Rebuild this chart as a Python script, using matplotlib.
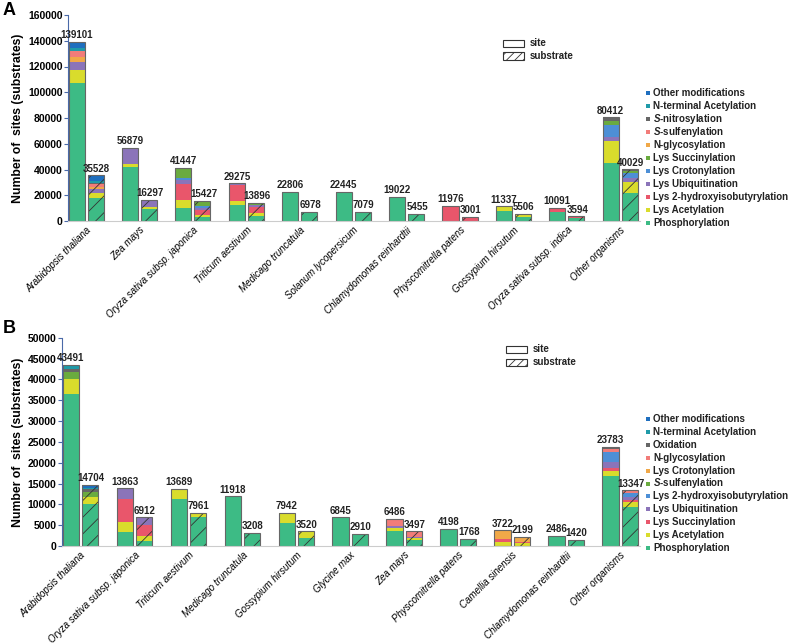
import matplotlib
matplotlib.use('Agg')
import matplotlib.pyplot as plt
from matplotlib.patches import Rectangle
import numpy as np

plt.rcParams['font.family'] = ['Liberation Sans', 'DejaVu Sans']
plt.rcParams['mathtext.fontset'] = 'custom'
plt.rcParams['mathtext.it'] = 'Liberation Sans:italic:bold'
plt.rcParams['mathtext.rm'] = 'Liberation Sans:bold'
plt.rcParams['hatch.color'] = '#333333'
plt.rcParams['hatch.linewidth'] = 0.6

# ---- panel A data ----
a_orgs = ['Arabidopsis thaliana', 'Zea mays', 'Oryza sativa subsp. japonica', 'Triticum aestivum',
          'Medicago truncatula', 'Solanum lycopersicum', 'Chlamydomonas reinhardtii',
          'Physcomitrella patens', 'Gossypium hirsutum', 'Oryza sativa subsp. indica', 'Other organisms']
a_mods = ['Phosphorylation', 'Lys Acetylation', 'Lys 2-hydroxyisobutyrylation', 'Lys Ubiquitination',
          'Lys Crotonylation', 'Lys Succinylation', 'N-glycosylation', '$\\it{S}$-sulfenylation',
          '$\\it{S}$-nitrosylation', 'N-terminal Acetylation', 'Other modifications']
a_colors = ['#3dbb85', '#d9dc2c', '#e9566b', '#8b74b9', '#4d8fd6', '#6aab3f', '#f0a848',
            '#f27c79', '#666666', '#1f9aa8', '#1f6fbf']
a_site_totals = [139101, 56879, 41447, 29275, 22806, 22445, 19022, 11976, 11337, 10091, 80412]
a_sub_totals = [35528, 16297, 15427, 13896, 6978, 7079, 5455, 3001, 5506, 3594, 40029]
a_site = [
    [107000, 42000, 10300, 12400, 22806, 21900, 19022, 0, 7800, 7000, 45300],
    [10500, 2200, 6000, 3400, 0, 0, 0, 0, 3537, 0, 17100],
    [0, 0, 12200, 12000, 0, 545, 0, 11976, 0, 3091, 0],
    [5700, 12200, 3300, 600, 0, 0, 0, 0, 0, 0, 3100],
    [0, 0, 1800, 0, 0, 0, 0, 0, 0, 0, 9100],
    [0, 0, 7847, 875, 0, 0, 0, 0, 0, 0, 3300],
    [4000, 179, 0, 0, 0, 0, 0, 0, 0, 0, 0],
    [4700, 300, 0, 0, 0, 0, 0, 0, 0, 0, 0],
    [0, 0, 0, 0, 0, 0, 0, 0, 0, 0, 2512],
    [2800, 0, 0, 0, 0, 0, 0, 0, 0, 0, 0],
    [4401, 0, 0, 0, 0, 0, 0, 0, 0, 0, 0],
]
a_sub = [
    [17600, 9300, 2800, 4100, 6978, 6900, 5455, 0, 2900, 2100, 22000],
    [4500, 1300, 2100, 2400, 0, 0, 0, 0, 2300, 0, 8500],
    [0, 0, 3600, 4100, 0, 0, 0, 3001, 0, 1494, 0],
    [2500, 5697, 1800, 1800, 0, 179, 0, 0, 306, 0, 2600],
    [0, 0, 1300, 0, 0, 0, 0, 0, 0, 0, 3900],
    [0, 0, 3827, 1496, 0, 0, 0, 0, 0, 0, 1800],
    [2000, 0, 0, 0, 0, 0, 0, 0, 0, 0, 0],
    [2500, 0, 0, 0, 0, 0, 0, 0, 0, 0, 0],
    [500, 0, 0, 0, 0, 0, 0, 0, 0, 0, 1229],
    [1500, 0, 0, 0, 0, 0, 0, 0, 0, 0, 0],
    [4428, 0, 0, 0, 0, 0, 0, 0, 0, 0, 0],
]

# ---- panel B data ----
b_orgs = ['Arabidopsis thaliana', 'Oryza sativa subsp. japonica', 'Triticum aestivum',
          'Medicago truncatula', 'Gossypium hirsutum', 'Glycine max', 'Zea mays',
          'Physcomitrella patens', 'Camellia sinensis', 'Chlamydomonas reinhardtii', 'Other organisms']
b_mods = ['Phosphorylation', 'Lys Acetylation', 'Lys Succinylation', 'Lys Ubiquitination',
          'Lys 2-hydroxyisobutyrylation', '$\\it{S}$-sulfenylation', 'Lys Crotonylation',
          'N-glycosylation', 'Oxidation', 'N-terminal Acetylation', 'Other modifications']
b_colors = ['#3dbb85', '#d9dc2c', '#e9566b', '#8b74b9', '#4d8fd6', '#6aab3f', '#f0a848',
            '#f27c79', '#666666', '#1f9aa8', '#1f6fbf']
b_site_totals = [43491, 13863, 13689, 11918, 7942, 6845, 6486, 4198, 3722, 2486, 23783]
b_sub_totals = [14704, 6912, 7961, 3208, 3520, 2910, 3497, 1768, 2199, 1420, 13347]
b_site = [
    [36500, 3400, 11300, 11918, 5600, 6845, 3600, 4198, 0, 2486, 16800],
    [3500, 2300, 2389, 0, 2342, 0, 640, 0, 1000, 0, 1300],
    [0, 5500, 0, 0, 0, 0, 0, 0, 700, 0, 700],
    [0, 2663, 0, 0, 0, 0, 660, 0, 0, 0, 1400],
    [0, 0, 0, 0, 0, 0, 0, 0, 0, 0, 2400],
    [1800, 0, 0, 0, 0, 0, 0, 0, 0, 0, 0],
    [0, 0, 0, 0, 0, 0, 0, 0, 2022, 0, 0],
    [0, 0, 0, 0, 0, 0, 1586, 0, 0, 0, 800],
    [800, 0, 0, 0, 0, 0, 0, 0, 0, 0, 383],
    [600, 0, 0, 0, 0, 0, 0, 0, 0, 0, 0],
    [291, 0, 0, 0, 0, 0, 0, 0, 0, 0, 0],
]
b_sub = [
    [10100, 1300, 6900, 3208, 1900, 2910, 1440, 1768, 0, 1420, 9400],
    [1600, 1100, 1061, 0, 1620, 0, 400, 0, 700, 0, 1100],
    [0, 2600, 0, 0, 0, 0, 0, 0, 300, 0, 500],
    [0, 1912, 0, 0, 0, 0, 400, 0, 0, 0, 800],
    [0, 0, 0, 0, 0, 0, 0, 0, 0, 0, 1000],
    [1200, 0, 0, 0, 0, 0, 0, 0, 0, 0, 0],
    [0, 0, 0, 0, 0, 0, 0, 0, 1199, 0, 0],
    [0, 0, 0, 0, 0, 0, 1257, 0, 0, 0, 300],
    [800, 0, 0, 0, 0, 0, 0, 0, 0, 0, 247],
    [300, 0, 0, 0, 0, 0, 0, 0, 0, 0, 0],
    [704, 0, 0, 0, 0, 0, 0, 0, 0, 0, 0],
]

W, H = 788, 644
fig = plt.figure(figsize=(W / 100, H / 100), dpi=100)


def fx(px):
    return px / W


def fy(py):
    return 1 - py / H


def draw_panel(rect, orgs, mods, colors, site, sub, site_tot, sub_tot, ymax, ystep,
               letter, letter_py, siteleg_py, modleg_py):
    ax = fig.add_axes(rect)
    x = np.arange(len(orgs))
    w = 0.30
    off = 0.178
    bs = np.zeros(len(orgs))
    bb = np.zeros(len(orgs))
    for vals_s, vals_b, c in zip(site, sub, colors):
        ax.bar(x - off, vals_s, w, bottom=bs, color=c, linewidth=0)
        ax.bar(x + off, vals_b, w, bottom=bb, color=c, linewidth=0, hatch='//',
               edgecolor='#333333')
        bs += np.array(vals_s)
        bb += np.array(vals_b)
    # outlines
    ax.bar(x - off, bs, w, fill=False, edgecolor='#666666', linewidth=0.8)
    ax.bar(x + off, bb, w, fill=False, edgecolor='#666666', linewidth=0.8)
    for i in range(len(orgs)):
        ax.text(x[i] - off, bs[i] + ymax * 0.008, str(site_tot[i]), ha='center', va='bottom',
                fontsize=7, fontweight='bold', color='#222222')
        ax.text(x[i] + off + 0.02, bb[i] + ymax * 0.008, str(sub_tot[i]), ha='center', va='bottom',
                fontsize=7, fontweight='bold', color='#222222')
    ax.set_xlim(-0.34, len(orgs) - 1 + 0.37)
    ax.set_ylim(0, ymax)
    ax.set_yticks(np.arange(0, ymax + 1, ystep))
    ax.set_xticks(x)
    ax.set_xticklabels(orgs, rotation=45, ha='right', rotation_mode='anchor',
                       fontsize=7, style='italic')
    ax.tick_params(axis='x', length=0, pad=3)
    ax.tick_params(axis='y', labelsize=7.5, length=3, color='#4a6aa8', pad=1)
    for t in ax.get_yticklabels():
        t.set_fontweight('bold')
    ax.spines['top'].set_visible(False)
    ax.spines['right'].set_visible(False)
    ax.spines['left'].set_color('#4a6aa8')
    ax.spines['left'].set_linewidth(0.8)
    ax.spines['bottom'].set_color('#cccccc')
    ax.spines['bottom'].set_linewidth(0.8)
    ax.set_ylabel('Number of  sites (substrates)', fontsize=8.8, fontweight='bold', labelpad=3)
    fig.text(fx(3), fy(letter_py), letter, fontsize=13, fontweight='bold', va='top')

    # site / substrate legend
    lx, ly = siteleg_py
    for k, (lab, hatch) in enumerate([('site', None), ('substrate', '////')]):
        top = ly + k * 12.5
        fig.add_artist(Rectangle((fx(lx), fy(top + 7)), 21 / W, 7 / H, transform=fig.transFigure,
                                 facecolor='white', edgecolor='#333333', linewidth=0.8, hatch=hatch))
        fig.text(fx(lx + 27), fy(top + 3.5), lab, va='center', fontsize=7, fontweight='bold',
                 color='#222222')

    # modification legend
    y0, y1 = modleg_py
    ys = np.linspace(y0, y1, len(mods))
    for name, c, yy in zip(mods[::-1], colors[::-1], ys):
        fig.add_artist(Rectangle((fx(646), fy(yy + 2)), 4 / W, 4 / H, transform=fig.transFigure,
                                 facecolor=c, edgecolor='none'))
        fig.text(fx(653), fy(yy), name, va='center', fontsize=7, fontweight='bold',
                 color='#222222')
    return ax


draw_panel([fx(68), fy(221), fx(640) - fx(68), (221 - 15) / H], a_orgs, a_mods, a_colors,
           a_site, a_sub, a_site_totals, a_sub_totals, 160000, 20000,
           'A', 2, (503, 40), (93, 223))
draw_panel([fx(62), fy(546), fx(640) - fx(62), (546 - 337.7) / H], b_orgs, b_mods, b_colors,
           b_site, b_sub, b_site_totals, b_sub_totals, 50000, 5000,
           'B', 320, (506, 346), (419, 548))

fig.savefig('out.png', dpi=100)
